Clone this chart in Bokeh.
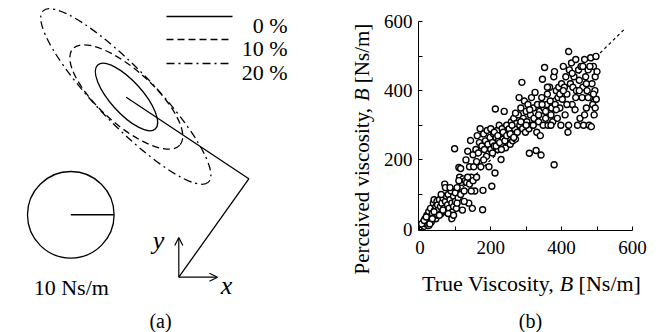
from bokeh.plotting import figure
from bokeh.layouts import row, column
from bokeh.models import Range1d, FixedTicker, Arrow, OpenHead
from bokeh.core.properties import value
from bokeh.embed import file_html
from bokeh.resources import INLINE

FONT = "Liberation Serif"
PAGE_H = 332  # page height; diagram y measured upward = PAGE_H - page_y

# ---------------- panel (a): diagram (page pixels, y measured upward) -------------
arm_x = [125.7, 248.3, 178.3]          # hand, elbow, shoulder
arm_y = [235.3, 153.7, 55.3]
ell_names = ["0 %", "10 %", "20 %"]
ell_cx = [126.0, 125.8, 125.3]
ell_cy = [235.5, 235.5, 236.0]
ell_major = [86, 144, 238]
ell_minor = [32, 54, 56]
ell_angle = [-48, -42, -46]
ell_dash = ["solid", "7 4", "8 4 2 4"]
legend_y = [316, 293, 269]
legend_text_y = [307, 284, 260]
ref_circle = [70.3, 117.7, 43.3]       # cx, cy, radius
ref_label = "10 Ns/m"

# ---------------- panel (b): scatter data ----------------
true_visc = [
    0, 2, 5, 8, 10, 12, 15, 18, 20, 22, 25, 25, 28,
    30, 32, 35, 38, 40, 42, 45, 45, 48, 50, 50,
    52, 55, 58, 60, 62, 65, 68, 70, 72, 72, 75, 75, 78,
    80, 82, 85, 88, 90, 90, 92, 95, 95, 98, 100, 100,
    103, 105, 108, 110, 112, 115, 115, 118, 120, 122, 125,
    128, 130, 132, 135, 138, 140, 140, 143, 145, 148, 150, 150,
    152, 155, 158, 160, 162, 165, 168, 170, 172, 175, 178, 177,
    180, 182, 185, 188, 190, 192, 195, 198, 200, 203, 200,
    205, 208, 210, 212, 213, 215, 218, 220, 222, 224,
    228, 229, 230, 232, 235, 238, 240, 242, 245, 248, 250,
    252, 255, 258, 260, 262, 265, 268, 270, 272, 275,
    278, 280, 282, 285, 288, 290, 292, 295, 298, 300,
    302, 305, 308, 309, 312, 315, 318, 320, 322, 325, 328,
    330, 332, 335, 338, 340, 342, 344, 346, 348, 350, 352,
    355, 358, 360, 362, 364, 366, 368, 370, 372, 375,
    378, 379, 380, 382, 385, 388, 390, 392, 395, 398, 400,
    402, 405, 408, 410, 412, 415, 418, 420, 420, 422, 425,
    428, 430, 432, 435, 438, 440, 442, 445, 448, 450,
    452, 455, 458, 460, 462, 465, 468, 470, 472, 475,
    478, 480, 482, 484, 486, 488, 490, 492, 494, 495, 497, 498, 500,
    5, 12, 18, 28, 35, 40, 55, 60, 65, 80,
    85, 95, 105, 110, 125, 135, 145, 160, 180, 205,
    210, 215, 220, 225, 230, 235, 240, 245, 255, 260,
    265, 270, 285, 300, 310, 320, 335, 345, 355, 360,
    370, 385, 395, 405, 415, 430, 440, 450, 460, 470,
    480, 490, 495, 465, 475,
]
perceived_visc = [
    0, 5, 3, 12, 20, 8, 30, 15, 40, 25, 10, 50, 35,
    60, 20, 45, 75, 85, 55, 30, 65, 80, 40, 70,
    55, 85, 65, 45, 75, 90, 60, 130, 120, 80, 50, 95, 70,
    100, 60, 85, 110, 30, 75, 50, 95, 65, 232, 105, 80,
    60, 120, 90, 178, 150, 100, 175, 135, 55, 145, 110,
    140, 200, 135, 225, 75, 130, 180, 256, 150, 60, 215, 140,
    180, 110, 230, 195, 270, 220, 250, 290, 180, 240, 112, 56,
    275, 230, 255, 210, 285, 245, 180, 265, 230, 124, 290,
    250, 275, 240, 162, 347, 265, 285, 230, 255, 300,
    270, 201, 245, 290, 260, 340, 275, 235, 300, 250, 265,
    290, 245, 310, 275, 255, 320, 290, 260, 305, 280,
    330, 380, 300, 350, 424, 290, 320, 370, 280, 340,
    310, 360, 290, 219, 330, 380, 300, 350, 320, 395, 227,
    280, 360, 310, 340, 270, 214, 380, 433, 300, 350, 467,
    320, 360, 390, 300, 340, 410, 370, 330, 350, 310,
    440, 186, 455, 360, 400, 320, 380, 410, 350, 300, 420,
    375, 470, 410, 330, 440, 390, 280, 513, 300, 460, 420,
    480, 360, 410, 440, 345, 490, 400, 300, 460, 430,
    320, 470, 380, 410, 300, 490, 440, 350, 400, 460,
    300, 380, 495, 296, 420, 360, 470, 330, 400, 440, 499, 375, 455,
    15, 25, 35, 15, 30, 50, 40, 100, 55, 45,
    120, 40, 75, 140, 80, 150, 110, 150, 200, 220,
    280, 240, 270, 250, 230, 280, 255, 270, 275, 300,
    265, 335, 310, 300, 345, 300, 330, 360, 340, 410,
    300, 345, 390, 400, 360, 450, 380, 400, 470, 420,
    470, 390, 350, 330, 380,
]
diag_x = [0, 580]
diag_y = [0, 580]
tick_major = [0, 200, 400, 600]
tick_minor = [100, 300, 500]
x_title = ["True Viscosity,", "B", "[Ns/m]"]
y_title = ["Perceived viscosity,", "B", "[Ns/m]"]


def no_align(p):
    try:
        p.frame_align = False
    except Exception:
        pass


def blank(width, height, x0, y0):
    """Figure whose frame fills the canvas; x = page px, y = page px measured upward."""
    p = figure(width=width, height=height, title=None,
               x_range=Range1d(x0, x0 + width), y_range=Range1d(y0, y0 + height),
               output_backend="svg", toolbar_location=None,
               x_axis_location=None, y_axis_location=None, min_border=0)
    p.grid.visible = False
    p.outline_line_color = None
    no_align(p)
    return p


def txt(p, x, y, s, size, style="normal", align="left", angle=0):
    p.text(x=[x], y=[y], text=[s], text_font=value(FONT), text_font_size=size,
           text_font_style=style, text_align=align, text_baseline="alphabetic",
           angle=angle, angle_units="deg", text_color="black")


# ======================= panel (a) =======================
pa = blank(330, PAGE_H, 0, 0)

for i in range(3):
    pa.ellipse(x=[ell_cx[i]], y=[ell_cy[i]], width=ell_major[i], height=ell_minor[i],
               angle=ell_angle[i], angle_units="deg", fill_color=None,
               line_color="black", line_width=1.3, line_dash=ell_dash[i])
    pa.line(x=[166, 232], y=[legend_y[i]] * 2, line_color="black",
            line_width=1.3, line_dash=ell_dash[i])
    txt(pa, 287, legend_text_y[i], ell_names[i], "22px", align="right")

pa.line(x=arm_x, y=arm_y, line_color="black", line_width=1.3)

pa.circle(x=[ref_circle[0]], y=[ref_circle[1]], radius=ref_circle[2],
          fill_color=None, line_color="black", line_width=1.3)
pa.line(x=[ref_circle[0], ref_circle[0] + ref_circle[2]], y=[ref_circle[1]] * 2,
        line_color="black", line_width=1.5)
txt(pa, 70.8, 44.7, ref_label, "22px", align="center")

pa.add_layout(Arrow(end=OpenHead(size=8, line_width=1.2, line_color="black"),
                    x_start=arm_x[2], y_start=arm_y[2], x_end=217, y_end=arm_y[2],
                    line_width=1.2, line_color="black"))
pa.add_layout(Arrow(end=OpenHead(size=8, line_width=1.2, line_color="black"),
                    x_start=arm_x[2], y_start=arm_y[2], x_end=arm_x[2], y_end=95,
                    line_width=1.2, line_color="black"))
txt(pa, 158, 92, "y", "26px", style="italic", align="center")
txt(pa, 226, 47, "x", "26px", style="italic", align="center")
txt(pa, 160, 12, "(a)", "20px", align="center")

# ======================= y-axis title strip =======================
YL_W = 46
ylab = blank(YL_W, PAGE_H, 330, 0)
yx = 361.5
txt(ylab, yx, PAGE_H - 274.0, y_title[0], "21px", angle=90)
txt(ylab, yx, PAGE_H - 100.75, y_title[1], "21px", style="italic", angle=90)
txt(ylab, yx, PAGE_H - 82.7, y_title[2], "21px", angle=90)

# ======================= panel (b) =======================
XR = (-4, 620)
YR = (-4, 620)
FW, FH = 221, 216
BL, BR, BT, BB = 418 - 330 - YL_W, 663 - 418 - 221, 14, 34
pb = figure(frame_width=FW, frame_height=FH, title=None,
            x_range=Range1d(*XR), y_range=Range1d(*YR),
            output_backend="svg", toolbar_location=None,
            min_border_left=BL, min_border_right=BR,
            min_border_top=BT, min_border_bottom=BB)
pb.grid.visible = False
pb.outline_line_color = None
no_align(pb)

for ax in (pb.xaxis[0], pb.yaxis[0]):
    ax.ticker = FixedTicker(ticks=tick_major, minor_ticks=tick_minor)
    ax.bounds = (XR[0], 600)
    ax.axis_line_color = "black"
    ax.axis_line_width = 1
    ax.major_tick_in = 4
    ax.major_tick_out = 0
    ax.minor_tick_in = 4
    ax.minor_tick_out = 0
    ax.major_tick_line_color = "black"
    ax.minor_tick_line_color = "black"
    ax.major_label_text_font = FONT
    ax.major_label_text_font_size = "19px"
    ax.major_label_text_color = "black"
pb.xaxis.major_label_standoff = 10
pb.yaxis.major_label_standoff = 6

pb.line(diag_x, diag_y, line_color="black", line_width=1.2, line_dash="3 3")
pb.scatter(true_visc, perceived_visc, marker="circle", size=6, fill_color="white",
           line_color="black", line_width=1.4)

# ======================= x-axis title strip + (b) =======================
PB_H = BT + FH + BB
XH = PAGE_H - PB_H
xlab = blank(BL + FW + BR, XH, 330 + YL_W, 0)
txt(xlab, 553.7, PAGE_H - 282.7, x_title[0], "22px", align="right")
txt(xlab, 559.2, PAGE_H - 282.7, x_title[1], "22px", style="italic")
txt(xlab, 578.1, PAGE_H - 282.7, x_title[2], "22px")
txt(xlab, 530, PAGE_H - 320, "(b)", "20px", align="center")

layout = row(pa, ylab, column(pb, xlab))
open("out.html", "w").write(file_html(layout, INLINE))
